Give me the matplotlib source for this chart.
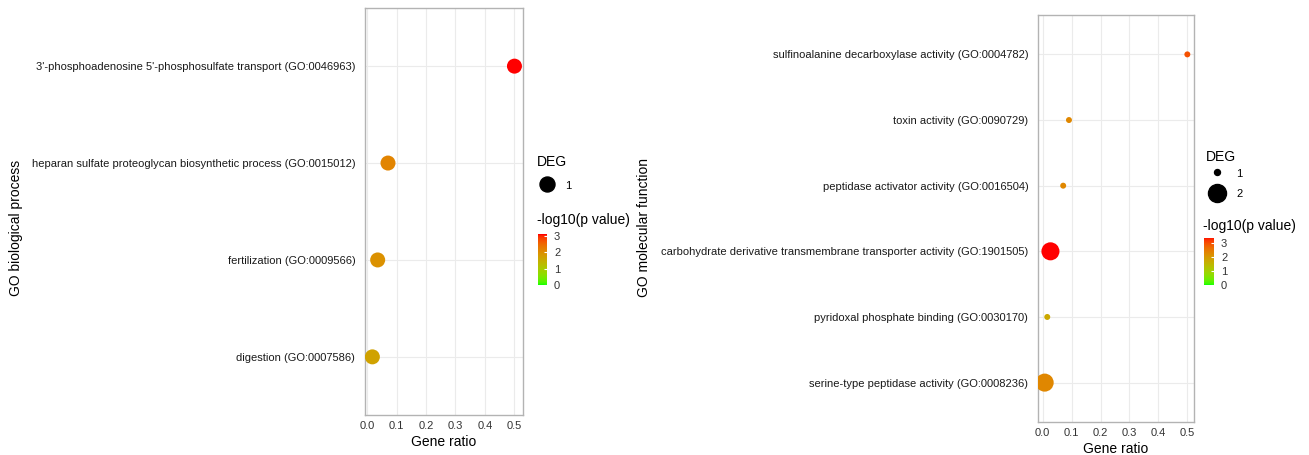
import numpy as np
import matplotlib
matplotlib.use("Agg")
import matplotlib.pyplot as plt
from matplotlib.colors import ListedColormap, Normalize
from matplotlib.cm import ScalarMappable
from matplotlib.lines import Line2D

plt.rcParams['font.family'] = ['Liberation Sans', 'DejaVu Sans']

# GO biological process
bp_terms = ["digestion (GO:0007586)",
            "fertilization (GO:0009566)",
            "heparan sulfate proteoglycan biosynthetic process (GO:0015012)",
            "3'-phosphoadenosine 5'-phosphosulfate transport (GO:0046963)"]
bp_ratio = [0.018, 0.036, 0.071, 0.50]
bp_deg = [1, 1, 1, 1]
bp_logp = [1.7, 1.95, 2.15, 3.1]

# GO molecular function
mf_terms = ["serine-type peptidase activity (GO:0008236)",
            "pyridoxal phosphate binding (GO:0030170)",
            "carbohydrate derivative transmembrane transporter activity (GO:1901505)",
            "peptidase activator activity (GO:0016504)",
            "toxin activity (GO:0090729)",
            "sulfinoalanine decarboxylase activity (GO:0004782)"]
mf_ratio = [0.007, 0.016, 0.027, 0.071, 0.091, 0.50]
mf_deg = [2, 1, 2, 1, 1, 1]
mf_logp = [2.3, 1.75, 3.4, 2.3, 2.3, 3.0]

xticks = [0.0, 0.1, 0.2, 0.3, 0.4, 0.5]


# green -> red gradient interpolated in Lab space
M = np.array([[0.4124, 0.3576, 0.1805],
              [0.2126, 0.7152, 0.0722],
              [0.0193, 0.1192, 0.9505]])
WHITE = np.array([0.95047, 1.0, 1.08883])


def to_lab(c):
    c = np.asarray(c, float)
    lin = np.where(c <= 0.04045, c / 12.92, ((c + 0.055) / 1.055) ** 2.4)
    xyz = M @ lin / WHITE
    f = np.where(xyz > 0.008856, np.cbrt(xyz), 7.787 * xyz + 16 / 116)
    return np.array([116 * f[1] - 16, 500 * (f[0] - f[1]), 200 * (f[1] - f[2])])


def to_rgb(lab):
    L, a, b = lab
    fy = (L + 16) / 116
    f = np.array([fy + a / 500, fy, fy - b / 200])
    xyz = np.where(f ** 3 > 0.008856, f ** 3, (f - 16 / 116) / 7.787) * WHITE
    lin = np.linalg.solve(M, xyz)
    lin = np.clip(lin, 0, None)
    c = np.where(lin <= 0.0031308, 12.92 * lin, 1.055 * lin ** (1 / 2.4) - 0.055)
    return np.clip(c, 0, 1)


lo, hi = to_lab([0, 1, 0]), to_lab([1, 0, 0])
cmap = ListedColormap([to_rgb(lo + (hi - lo) * t) for t in np.linspace(0, 1, 256)])

W, H = 1309, 455
fig = plt.figure(figsize=(W / 100, H / 100), dpi=100)


def px(x0, y0, x1, y1):
    # pixel box (left, top, right, bottom) -> figure fraction rect
    return [x0 / W, 1 - y1 / H, (x1 - x0) / W, (y1 - y0) / H]


def panel(rect, terms, ratio, deg, logp, vmax, sizes, xlim, ylabel, ylab_x):
    ax = fig.add_axes(rect)
    norm = Normalize(0, vmax)
    y = np.arange(1, len(terms) + 1)
    ax.scatter(ratio, y, s=[sizes[d] ** 2 for d in deg], c=logp, cmap=cmap, norm=norm,
               edgecolors='none', zorder=3)
    ax.set_yticks(y)
    ax.set_yticklabels(terms)
    ax.set_xticks(xticks)
    ax.set_xticklabels([f"{v:.1f}" for v in xticks])
    ax.set_xlim(*xlim)
    ax.set_ylim(0.4, len(terms) + 0.6)
    ax.grid(True, color='#ebebeb', linewidth=0.8, zorder=0)
    ax.set_axisbelow(True)
    for s in ax.spines.values():
        s.set_color('#b3b3b3')
        s.set_linewidth(1.0)
    ax.tick_params(axis='both', length=0, labelsize=8, colors='#1a1a1a')
    ax.tick_params(axis='y', pad=7)
    ax.tick_params(axis='x', pad=4, labelcolor='#333333')
    ax.set_xlabel("Gene ratio", fontsize=10, labelpad=3)
    ax.set_ylabel(ylabel, fontsize=10)
    # label position is given by the bottom edge of the rotated text
    ax.yaxis.set_label_coords((ylab_x + 6) / W, 0.5, transform=fig.transFigure)
    return ax, norm


def legend(ax, norm, sizes, title_xy, keys_xy, textpad, spacing, cbar_box, cbar_title_xy):
    keys = sorted(sizes)
    handles = [Line2D([], [], linestyle='none', marker='o', color='black',
                      markersize=sizes[k]) for k in keys]
    fig.text(title_xy[0] / W, 1 - title_xy[1] / H, "DEG", fontsize=10,
             ha='left', va='center')
    ax.legend(handles, [str(k) for k in keys], frameon=False,
              loc='center left', bbox_to_anchor=(keys_xy[0] / W, 1 - keys_xy[1] / H),
              bbox_transform=fig.transFigure, fontsize=8,
              handletextpad=textpad, labelspacing=spacing, handleheight=1.2,
              borderpad=0, borderaxespad=0, handlelength=1.2)
    cax = fig.add_axes(px(*cbar_box))
    cb = fig.colorbar(ScalarMappable(norm=norm, cmap=cmap), cax=cax, ticks=[0, 1, 2, 3])
    cb.outline.set_visible(False)
    cax.tick_params(length=2, color='white', direction='in', labelsize=8,
                    labelcolor='#333333', pad=5)
    fig.text(cbar_title_xy[0] / W, 1 - cbar_title_xy[1] / H, "-log10(p value)",
             fontsize=10, ha='left', va='center')


bp_sizes = {1: 10.8}
ax1, n1 = panel(px(365, 8, 523, 415), bp_terms, bp_ratio, bp_deg, bp_logp, 3.1,
                bp_sizes, (-0.007, 0.529), "GO biological process", 17)
legend(ax1, n1, bp_sizes, (537, 162), (540.6, 185), 1.0, 0.6,
       (538, 234.4, 547, 285), (537, 220))

mf_sizes = {1: 4.3, 2: 13.0}
ax2, n2 = panel(px(1038, 15, 1194, 422), mf_terms, mf_ratio, mf_deg, mf_logp, 3.4,
                mf_sizes, (-0.016, 0.523), "GO molecular function", 645)
legend(ax2, n2, mf_sizes, (1206, 157), (1210, 183.3), 1.15, 0.85,
       (1204, 237.7, 1214, 285), (1203, 226))

fig.savefig("out.png", dpi=100)
